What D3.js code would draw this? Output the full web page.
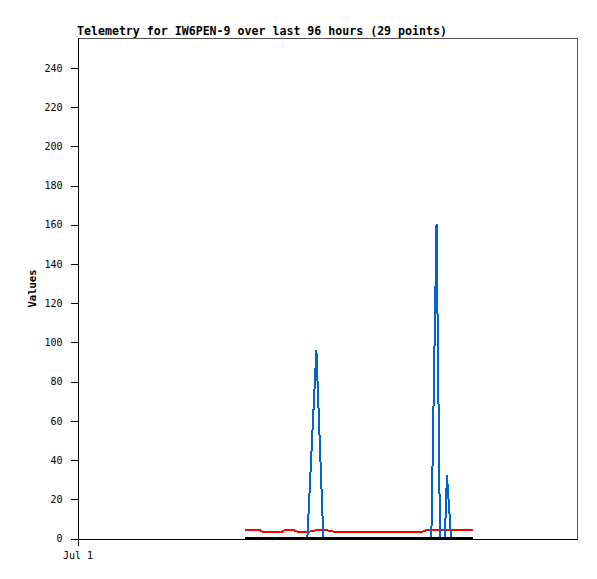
<!DOCTYPE html>
<html><head><meta charset="utf-8">
<script src="https://cdn.jsdelivr.net/npm/d3@7"></script>
<style>body{margin:0;background:#fff}svg{display:block}</style>
</head><body>
<script>
const title = "Telemetry for IW6PEN-9 over last 96 hours (29 points)";
const yLabel = "Values";
const times = ["08:01","08:24","08:47","08:53","09:22","09:48","09:56","10:22","10:36","10:51","11:02","11:28","11:48","11:57","12:23","13:35","14:33","15:30","16:31","16:45","16:59","17:14","17:24","17:38","17:44","17:56","18:17","18:37","18:58"];
const blueVals = [0,0,0,0,0,0,0,0,0,0,0,96,0,0,0,0,0,0,0,0,0,160,0,0,32,0,0,0,0];
const redVals  = [4,4,4,3,3,3,4,4,3,3,3,4,4,4,3,3,3,3,3,4,4,4,4,4,4,4,4,4,4];
const blackVals= [0,0,0,0,0,0,0,0,0,0,0,0,0,0,0,0,0,0,0,0,0,0,0,0,0,0,0,0,0];
const yTicks = [0,20,40,60,80,100,120,140,160,180,200,220,240];
const xTickLabels = [{date:"2024-07-01T00:00", label:"Jul 1"}];
const xDomain = ["2024-07-01T00:00","2024-07-02T00:00"];
const yDomain = [0,255];

const W=597,H=579, L=77.5, R=577.5, T=38.5, B=538.5;
const parse = d3.timeParse("%Y-%m-%dT%H:%M");
const dates = times.map(t=>parse("2024-07-01T"+t));
const x = d3.scaleTime().domain(xDomain.map(parse)).range([L,R]);
const y = d3.scaleLinear().domain(yDomain).range([B,T]);

const svg = d3.select("body").append("svg").attr("width",W).attr("height",H);
const mono = "'DejaVu Sans Mono', 'Liberation Mono', monospace";

svg.append("path").attr("d",`M${L},${T}H${R}V${B}`).attr("fill","none").attr("stroke","#555").attr("stroke-width",1).attr("shape-rendering","crispEdges");

const line = (vals,off) => d3.line().x((d,i)=>x(dates[i])).y(d=>y(d)+off)(vals);
[[redVals,"#ff0000",-0.5],[blueVals,"#0066cc",-0.5],[blackVals,"#000000",-1]].forEach(([v,c,o])=>{
  svg.append("path").attr("d",line(v,o)).attr("fill","none").attr("stroke",c).attr("stroke-width",2).attr("shape-rendering","crispEdges");
});

const ya = svg.append("g").attr("transform",`translate(${L},0)`)
  .call(d3.axisLeft(y).tickValues(yTicks).tickSize(7).tickPadding(8).tickSizeOuter(0));
ya.select(".domain").attr("stroke","#000").attr("shape-rendering","crispEdges");
ya.selectAll(".tick line").attr("stroke","#000").attr("shape-rendering","crispEdges");
ya.selectAll("text").attr("font-family",mono).attr("font-size","10px").attr("fill","#000");

const xa = svg.append("g").attr("transform",`translate(0,${B})`)
  .call(d3.axisBottom(x).tickValues(xTickLabels.map(d=>parse(d.date))).tickFormat((d,i)=>xTickLabels[i].label).tickSize(7).tickPadding(6).tickSizeOuter(0));
xa.select(".domain").attr("stroke","#000").attr("shape-rendering","crispEdges");
xa.selectAll(".tick line").attr("stroke","#000").attr("shape-rendering","crispEdges");
xa.selectAll("text").attr("font-family",mono).attr("font-size","10px").attr("fill","#000");

svg.append("text").attr("x",L-0.5).attr("y",35).attr("font-family",mono).attr("font-weight","bold").attr("font-size","11.6px").text(title);
svg.append("text").attr("transform",`translate(36,${(T+B)/2}) rotate(-90)`).attr("text-anchor","middle").attr("font-family",mono).attr("font-weight","bold").attr("font-size","10.5px").text(yLabel);
</script>
</body></html>
